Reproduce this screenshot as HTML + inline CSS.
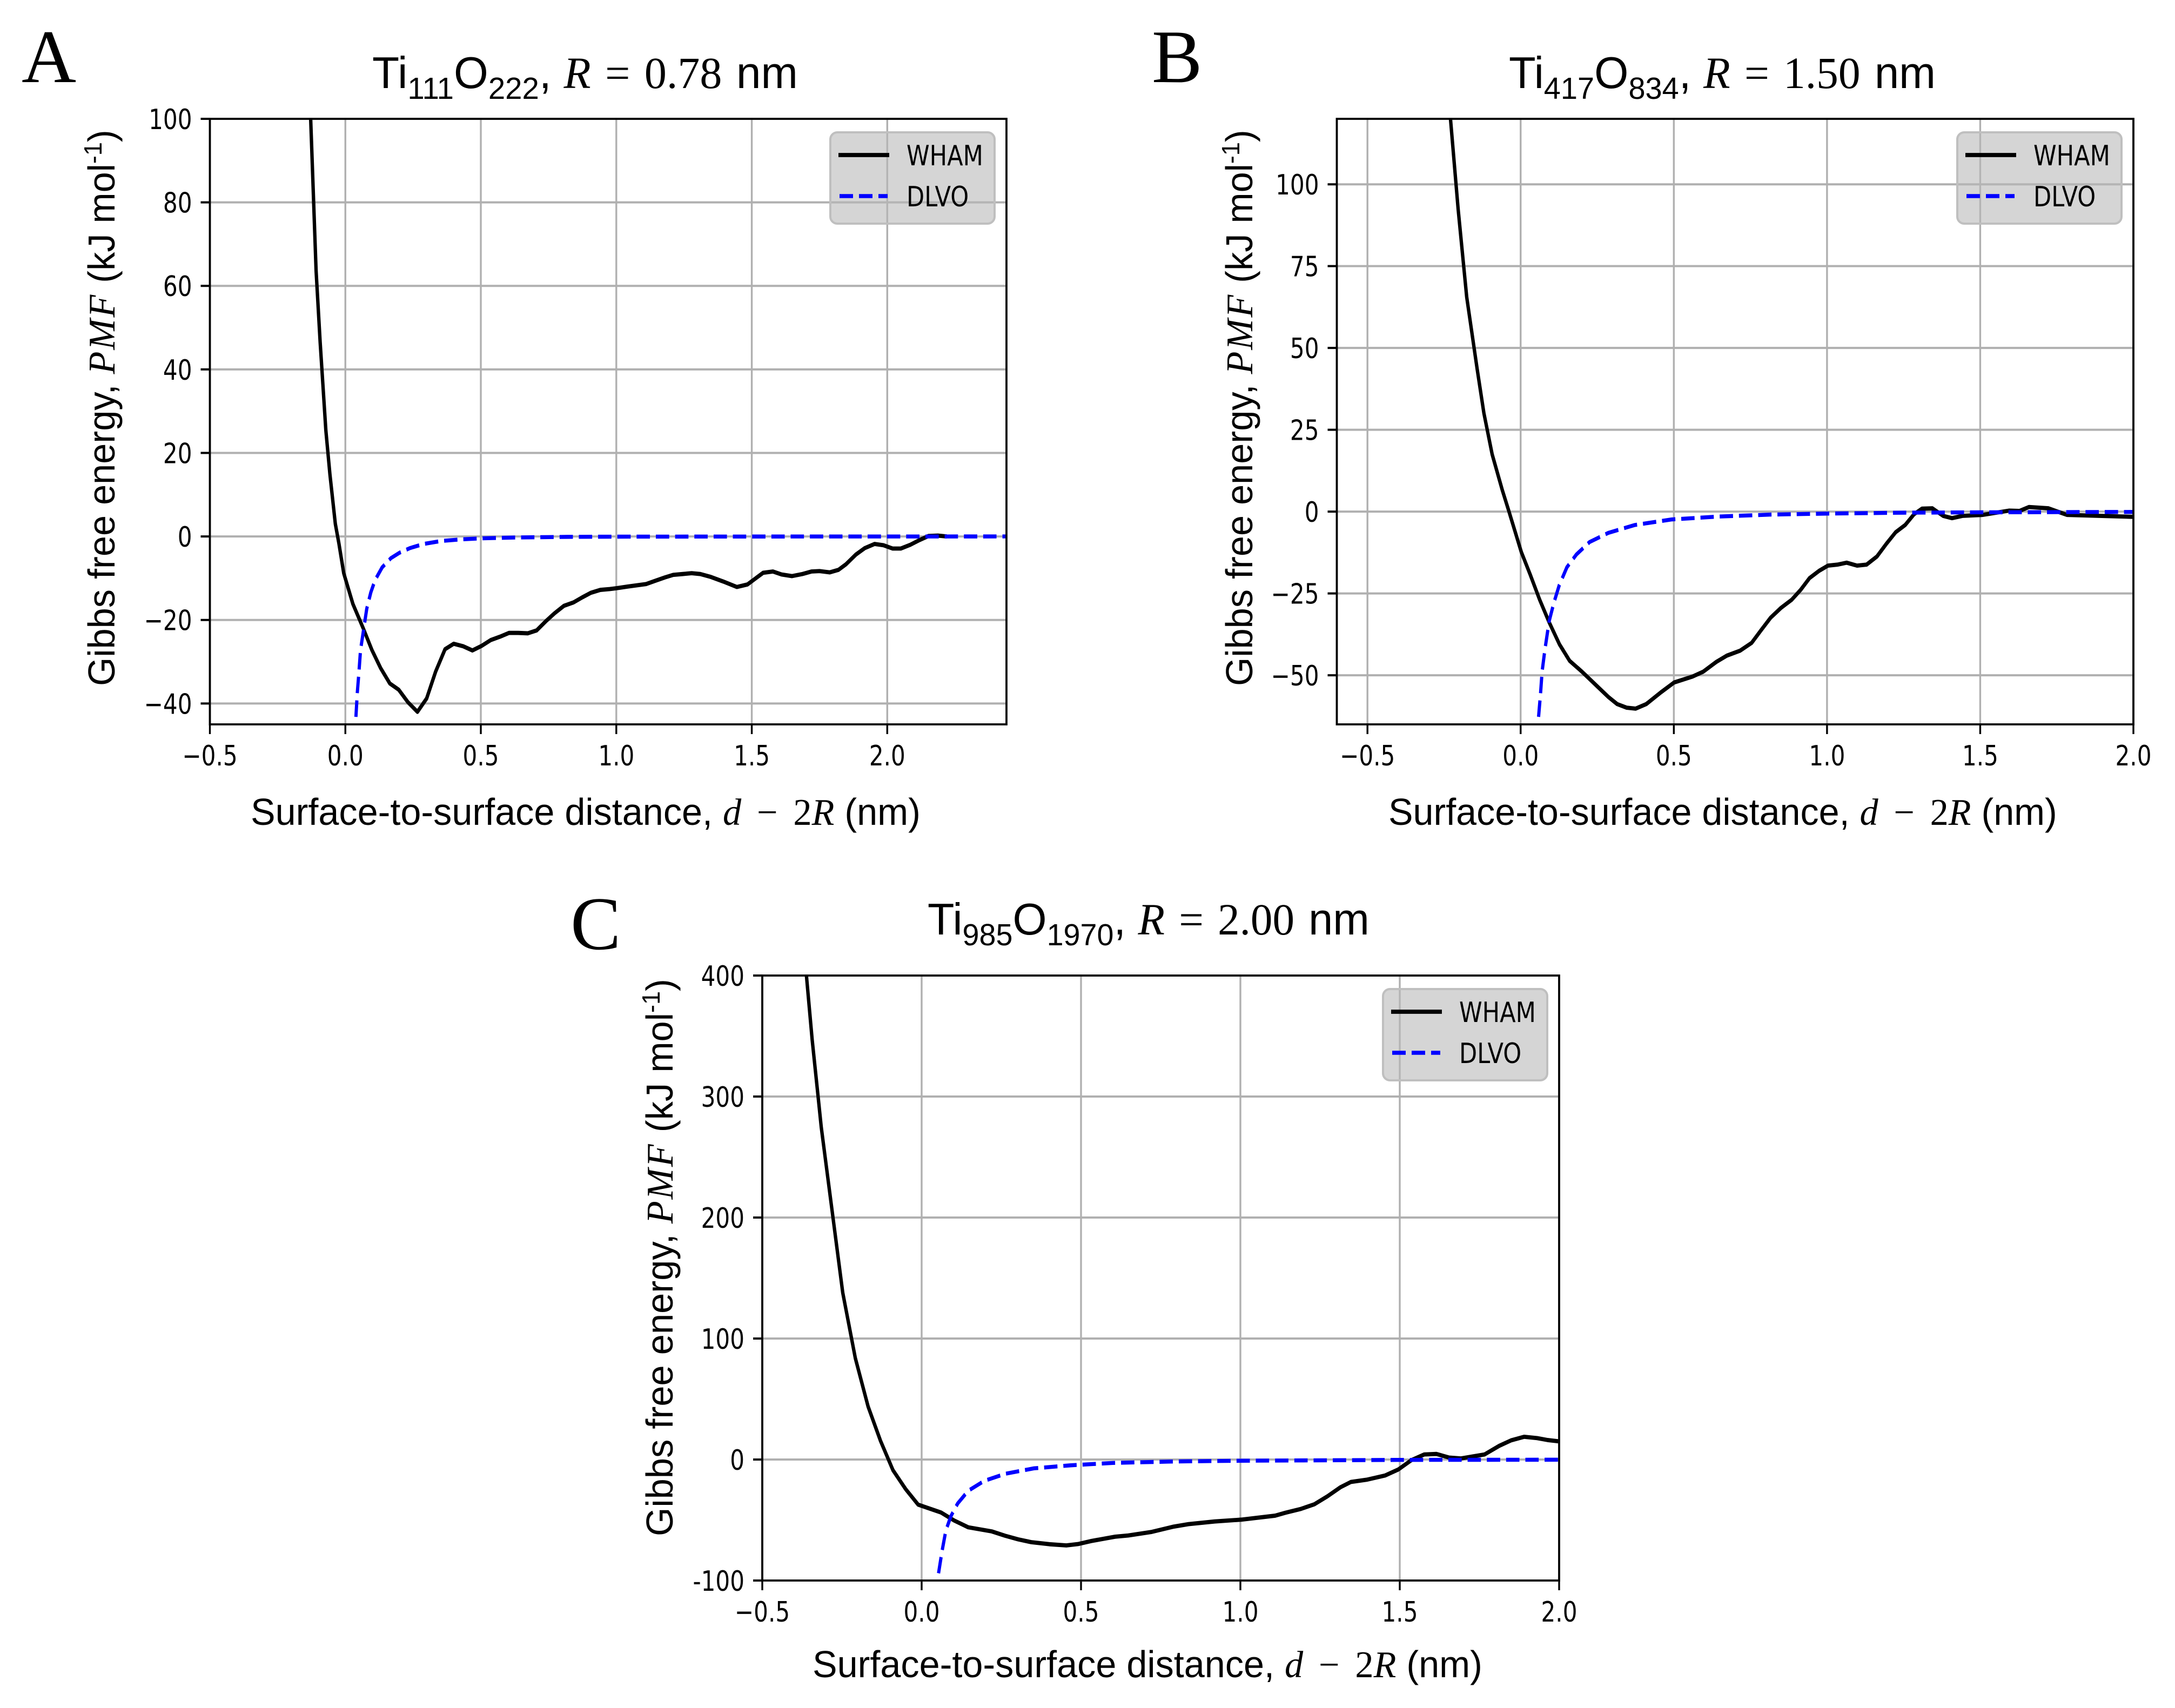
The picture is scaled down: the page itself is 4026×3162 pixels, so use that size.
<!DOCTYPE html>
<html lang="en">
<head>
<meta charset="utf-8">
<title>PMF of TiO2 nanoparticles: WHAM vs DLVO</title>
<style>
  html, body { margin: 0; padding: 0; background: #fff; }
  svg { display: block; }
  text { fill: #000; }
  .sans { font-family: "Liberation Sans", sans-serif; }
  .serif { font-family: "Liberation Serif", serif; }
  .ital { font-family: "Liberation Serif", serif; font-style: italic; }
  .letter { font-family: "Liberation Serif", serif; font-size: 140px; }
  .title { font-family: "Liberation Sans", sans-serif; font-size: 83px; }
  .axis-label { font-family: "Liberation Sans", sans-serif; font-size: 70px; }
  .legend-text, .tick-text { font-family: "DejaVu Sans", sans-serif; font-size: 52px; }
  .legend-box { fill: #b7b7b7; fill-opacity: .58; stroke: #bfbfbf; stroke-width: 4; }
</style>
</head>
<body>
<svg id="figure" xmlns="http://www.w3.org/2000/svg" width="4026" height="3162" viewBox="0 0 4026 3162">
  <rect width="4026" height="3162" fill="#fff"/>

  <!-- Panel A -->
  <g id="panel-a">
    <text class="letter" x="40" y="152">A</text>
    <text class="title" data-x="689" data-y="163" data-w="788">Ti<tspan font-size="57" dy="20">111</tspan><tspan dy="-20">O</tspan><tspan font-size="57" dy="20">222</tspan><tspan dy="-20">, </tspan><tspan class="ital">R</tspan><tspan class="serif" word-spacing="6"> = 0.78 </tspan>nm</text>
    <text class="axis-label" data-x="464" data-y="1527" data-w="1240">Surface-to-surface distance, <tspan class="ital">d</tspan><tspan class="serif" word-spacing="12"> − 2</tspan><tspan class="ital">R</tspan> (nm)</text>
    <text class="axis-label" data-x="212" data-y="1270" data-w="1030" data-rot="1">Gibbs free energy, <tspan class="ital" letter-spacing="3">PMF</tspan>  (kJ mol<tspan font-size="46" dy="-24">-1</tspan><tspan dy="24">)</tspan></text>
    <g id="marks-a"></g>
    <g>
      <rect class="legend-box" x="1537" y="245" width="304" height="169" rx="13"/>
      <line x1="1552" x2="1646" y1="287" y2="287" stroke="#000" stroke-width="7.8"/>
      <line x1="1554" x2="1643" y1="363" y2="363" stroke="#0000ff" stroke-width="7.4" stroke-dasharray="25 11"/>
      <text class="legend-text" transform="translate(1678 306) scale(.83 1)">WHAM</text>
      <text class="legend-text" transform="translate(1678 382) scale(.83 1)">DLVO</text>
    </g>
  </g>

  <!-- Panel B -->
  <g id="panel-b">
    <text class="letter" x="2132" y="152">B</text>
    <text class="title" data-x="2793" data-y="163" data-w="790">Ti<tspan font-size="57" dy="20">417</tspan><tspan dy="-20">O</tspan><tspan font-size="57" dy="20">834</tspan><tspan dy="-20">, </tspan><tspan class="ital">R</tspan><tspan class="serif" word-spacing="6"> = 1.50 </tspan>nm</text>
    <text class="axis-label" data-x="2570" data-y="1527" data-w="1238">Surface-to-surface distance, <tspan class="ital">d</tspan><tspan class="serif" word-spacing="12"> − 2</tspan><tspan class="ital">R</tspan> (nm)</text>
    <text class="axis-label" data-x="2318" data-y="1270" data-w="1030" data-rot="1">Gibbs free energy, <tspan class="ital" letter-spacing="3">PMF</tspan>  (kJ mol<tspan font-size="46" dy="-24">-1</tspan><tspan dy="24">)</tspan></text>
    <g id="marks-b"></g>
    <g>
      <rect class="legend-box" x="3623" y="245" width="304" height="169" rx="13"/>
      <line x1="3638" x2="3732" y1="287" y2="287" stroke="#000" stroke-width="7.8"/>
      <line x1="3640" x2="3729" y1="363" y2="363" stroke="#0000ff" stroke-width="7.4" stroke-dasharray="25 11"/>
      <text class="legend-text" transform="translate(3764 306) scale(.83 1)">WHAM</text>
      <text class="legend-text" transform="translate(3764 382) scale(.83 1)">DLVO</text>
    </g>
  </g>

  <!-- Panel C -->
  <g id="panel-c">
    <text class="letter" x="1056" y="1757">C</text>
    <text class="title" data-x="1717" data-y="1730" data-w="818">Ti<tspan font-size="57" dy="20">985</tspan><tspan dy="-20">O</tspan><tspan font-size="57" dy="20">1970</tspan><tspan dy="-20">, </tspan><tspan class="ital">R</tspan><tspan class="serif" word-spacing="6"> = 2.00 </tspan>nm</text>
    <text class="axis-label" data-x="1504" data-y="3105" data-w="1240">Surface-to-surface distance, <tspan class="ital">d</tspan><tspan class="serif" word-spacing="12"> − 2</tspan><tspan class="ital">R</tspan> (nm)</text>
    <text class="axis-label" data-x="1245" data-y="2844" data-w="1032" data-rot="1">Gibbs free energy, <tspan class="ital" letter-spacing="3">PMF</tspan>  (kJ mol<tspan font-size="46" dy="-24">-1</tspan><tspan dy="24">)</tspan></text>
    <g id="marks-c"></g>
    <g>
      <rect class="legend-box" x="2560" y="1831" width="304" height="169" rx="13"/>
      <line x1="2575" x2="2669" y1="1873" y2="1873" stroke="#000" stroke-width="7.8"/>
      <line x1="2577" x2="2666" y1="1949" y2="1949" stroke="#0000ff" stroke-width="7.4" stroke-dasharray="25 11"/>
      <text class="legend-text" transform="translate(2701 1892) scale(.83 1)">WHAM</text>
      <text class="legend-text" transform="translate(2701 1968) scale(.83 1)">DLVO</text>
    </g>
  </g>
</svg>

<script>
// ---------- Panel A data ----------
const xTicksA = [-0.5, 0, 0.5, 1, 1.5, 2];
const xTickLabelsA = ["−0.5", "0.0", "0.5", "1.0", "1.5", "2.0"];
const yTicksA = [-40, -20, 0, 20, 40, 60, 80, 100];
const yTickLabelsA = ["−40", "−20", "0", "20", "40", "60", "80", "100"];
const whamDistanceA = [-0.135,-0.128,-0.108,-0.093,-0.072,-0.057,-0.037,-0.024,-0.006,0.028,0.066,0.098,0.13,0.164,0.197,0.231,0.266,0.30,0.333,0.368,0.40,0.435,0.469,0.503,0.537,0.571,0.604,0.638,0.673,0.706,0.74,0.772,0.807,0.842,0.874,0.906,0.941,0.976,1.0,1.042,1.11,1.145,1.18,1.21,1.245,1.278,1.31,1.349,1.395,1.445,1.484,1.542,1.578,1.61,1.648,1.687,1.72,1.75,1.788,1.82,1.847,1.885,1.917,1.953,1.986,2.02,2.05,2.085,2.118,2.152,2.187,2.22];
const whamEnergyA = [110,100,63.6,46.5,25.4,14.9,3,-1.6,-8.8,-16.2,-22,-27.2,-31.5,-35.2,-36.7,-39.7,-42,-38.8,-32.4,-27,-25.7,-26.3,-27.3,-26.2,-24.8,-24,-23.1,-23.1,-23.2,-22.5,-20.3,-18.4,-16.6,-15.8,-14.6,-13.5,-12.8,-12.6,-12.4,-12,-11.4,-10.6,-9.8,-9.2,-9,-8.8,-9,-9.7,-10.8,-12.1,-11.5,-8.7,-8.4,-9.1,-9.5,-9,-8.4,-8.3,-8.6,-8,-6.7,-4.3,-2.8,-1.8,-2.1,-2.9,-2.9,-2,-0.9,0.1,0.2,0];
const dlvoDistanceA = [0.039,0.044,0.05,0.056,0.069,0.079,0.094,0.11,0.136,0.168,0.2,0.238,0.289,0.352,0.428,0.505,0.63,0.82,1.0,1.5,2.0,2.44];
const dlvoEnergyA = [-43.2,-37.5,-32.6,-27.2,-21.6,-17.3,-13.4,-10.4,-7.4,-5.2,-3.9,-2.8,-1.8,-1.1,-0.7,-0.45,-0.25,-0.1,-0.05,-0.02,-0.01,0];

// ---------- Panel B data ----------
const xTicksB = [-0.5, 0, 0.5, 1, 1.5, 2];
const xTickLabelsB = ["−0.5", "0.0", "0.5", "1.0", "1.5", "2.0"];
const yTicksB = [-50, -25, 0, 25, 50, 75, 100];
const yTickLabelsB = ["−50", "−25", "0", "25", "50", "75", "100"];
const whamDistanceB = [-0.24,-0.229,-0.204,-0.176,-0.142,-0.12,-0.093,-0.06,-0.038,0.002,0.031,0.062,0.093,0.127,0.16,0.2,0.248,0.286,0.315,0.346,0.375,0.41,0.458,0.501,0.561,0.596,0.639,0.673,0.716,0.754,0.785,0.816,0.85,0.885,0.914,0.943,0.974,1.003,1.034,1.064,1.098,1.129,1.163,1.194,1.224,1.255,1.284,1.31,1.344,1.379,1.408,1.442,1.508,1.594,1.628,1.659,1.723,1.783,2.0];
const whamEnergyB = [132,120,92.4,65.5,43.6,30.1,17.5,6.6,0,-12.3,-19.2,-26.9,-33.8,-40.6,-45.6,-48.9,-53.2,-56.6,-58.8,-59.9,-60.2,-58.8,-55.2,-52.2,-50.4,-48.9,-45.9,-44,-42.5,-40.1,-36.2,-32.4,-29.4,-26.9,-23.9,-20.3,-18.1,-16.5,-16.2,-15.6,-16.5,-16.2,-13.7,-9.8,-6.3,-4.1,-0.8,0.9,1,-1.3,-2,-1.3,-1,0.3,0.2,1.4,1,-1,-1.6];
const dlvoDistanceB = [0.0585,0.065,0.07,0.079,0.093,0.108,0.126,0.151,0.182,0.225,0.286,0.372,0.492,0.647,0.819,1.0,1.25,1.5,2.0];
const dlvoEnergyB = [-62.7,-55.5,-48.9,-42.3,-33.5,-28,-22.5,-17,-13.1,-9.3,-6.5,-4.1,-2.4,-1.5,-0.9,-0.6,-0.33,-0.22,-0.1];

// ---------- Panel C data ----------
const xTicksC = [-0.5, 0, 0.5, 1, 1.5, 2];
const xTickLabelsC = ["−0.5", "0.0", "0.5", "1.0", "1.5", "2.0"];
const yTicksC = [-100, 0, 100, 200, 300, 400];
const yTickLabelsC = ["-100", "0", "100", "200", "300", "400"];
const whamDistanceC = [-0.37,-0.3615,-0.3435,-0.3237,-0.315,-0.284,-0.2475,-0.208,-0.168,-0.129,-0.09,-0.05,-0.011,0.061,0.102,0.146,0.22,0.262,0.303,0.344,0.401,0.454,0.492,0.533,0.607,0.648,0.722,0.788,0.837,0.919,1.002,1.109,1.141,1.19,1.232,1.273,1.314,1.347,1.396,1.454,1.495,1.536,1.577,1.615,1.655,1.692,1.766,1.812,1.849,1.89,1.931,1.964,2.0];
const whamEnergyC = [425,400,347,297,274.7,211.8,137.8,83.7,43.8,15.4,-8.8,-24.5,-37.3,-43.8,-50.4,-56,-59.4,-63,-66,-68.3,-70,-71,-69.8,-67.3,-63.8,-62.8,-59.8,-55.6,-53.4,-51.2,-49.7,-46.4,-44,-40.8,-37,-30.4,-22.9,-18.5,-16.7,-13.2,-8.3,-0.6,4.2,4.6,1.6,0.9,4.2,11.3,15.8,18.8,17.7,16.1,15];
const dlvoDistanceC = [0.053,0.064,0.076,0.092,0.113,0.146,0.196,0.262,0.352,0.467,0.599,0.796,1.0,1.29,1.5,2.0];
const dlvoEnergyC = [-94,-75.7,-58.6,-46.7,-36.3,-25.9,-17.7,-11.8,-7.3,-4.8,-2.8,-1.6,-1,-0.6,-0.3,-0.15];

const SVG_NS = "http://www.w3.org/2000/svg";
// The source figure is horizontally squeezed, so strokes are thinner when running vertically.
const SQUEEZE = 0.81;

function makeNode(tag, parent) {
  const node = document.createElementNS(SVG_NS, tag);
  parent.appendChild(node);
  return node;
}

function linePath(xs, ys, xScale, yScale) {
  return xs.map(function (v, i) {
    return (i ? "L" : "M") + (xScale(v) / SQUEEZE).toFixed(2) + " " + yScale(ys[i]).toFixed(2);
  }).join(" ");
}

function drawPanel(id, box, xDomain, yDomain, xTicks, xLabels, yTicks, yLabels, whamX, whamY, dlvoX, dlvoY) {
  const root = document.getElementById("marks-" + id);
  const xScale = function (v) {
    return box.left + (v - xDomain[0]) / (xDomain[1] - xDomain[0]) * (box.right - box.left);
  };
  const yScale = function (v) {
    return box.bottom - (v - yDomain[0]) / (yDomain[1] - yDomain[0]) * (box.bottom - box.top);
  };

  const clip = makeNode("clipPath", root);
  clip.setAttribute("id", "clip-" + id);
  const clipRect = makeNode("rect", clip);
  clipRect.setAttribute("x", box.left);
  clipRect.setAttribute("y", box.top);
  clipRect.setAttribute("width", box.right - box.left);
  clipRect.setAttribute("height", box.bottom - box.top);

  xTicks.forEach(function (v, i) {
    const grid = makeNode("line", root);
    
    
    grid.setAttribute("x1", xScale(v));
    grid.setAttribute("x2", xScale(v));
    grid.setAttribute("y1", box.top);
    grid.setAttribute("y2", box.bottom);
    grid.setAttribute("stroke", "#b0b0b0");
    grid.setAttribute("stroke-width", "3.4");

    const tick = makeNode("line", root);
    
    
    tick.setAttribute("x1", xScale(v));
    tick.setAttribute("x2", xScale(v));
    tick.setAttribute("y1", box.bottom);
    tick.setAttribute("y2", box.bottom + 18);
    tick.setAttribute("stroke", "#000");
    tick.setAttribute("stroke-width", "3.4");

    const label = makeNode("text", root);
    
    
    label.setAttribute("class", "tick-text");
    label.setAttribute("text-anchor", "middle");
    label.setAttribute("transform", "translate(" + xScale(v) + " " + (box.bottom + 76) + ") scale(.81 1)");
    label.textContent = xLabels[i];
  });

  yTicks.forEach(function (v, i) {
    const grid = makeNode("line", root);
    
    
    grid.setAttribute("x1", box.left);
    grid.setAttribute("x2", box.right);
    grid.setAttribute("y1", yScale(v));
    grid.setAttribute("y2", yScale(v));
    grid.setAttribute("stroke", "#b0b0b0");
    grid.setAttribute("stroke-width", "4");

    const tick = makeNode("line", root);
    
    
    tick.setAttribute("x1", box.left - 17);
    tick.setAttribute("x2", box.left);
    tick.setAttribute("y1", yScale(v));
    tick.setAttribute("y2", yScale(v));
    tick.setAttribute("stroke", "#000");
    tick.setAttribute("stroke-width", "4");

    const label = makeNode("text", root);
    
    
    label.setAttribute("class", "tick-text");
    label.setAttribute("text-anchor", "end");
    label.setAttribute("transform", "translate(" + (box.left - 33) + " " + (yScale(v) + 19) + ") scale(.81 1)");
    label.textContent = yLabels[i];
  });

  const clipped = makeNode("g", root);
  
  
  clipped.setAttribute("clip-path", "url(#clip-" + id + ")");

  const wham = makeNode("path", clipped);
  
  
  wham.setAttribute("transform", "scale(" + SQUEEZE + " 1)");
  wham.setAttribute("d", linePath(whamX, whamY, xScale, yScale));
  wham.setAttribute("fill", "none");
  wham.setAttribute("stroke", "#000");
  wham.setAttribute("stroke-width", "7.8");
  wham.setAttribute("stroke-linejoin", "round");

  const dlvo = makeNode("path", clipped);
  
  
  dlvo.setAttribute("transform", "scale(" + SQUEEZE + " 1)");
  dlvo.setAttribute("d", linePath(dlvoX, dlvoY, xScale, yScale));
  dlvo.setAttribute("fill", "none");
  dlvo.setAttribute("stroke", "#0000ff");
  dlvo.setAttribute("stroke-width", "7.4");
  dlvo.setAttribute("stroke-dasharray", "30.5 13.5");

  const frame = makeNode("rect", root);
  
  
  frame.setAttribute("x", box.left);
  frame.setAttribute("y", box.top);
  frame.setAttribute("width", box.right - box.left);
  frame.setAttribute("height", box.bottom - box.top);
  frame.setAttribute("fill", "none");
  frame.setAttribute("stroke", "#000");
  frame.setAttribute("stroke-width", "3.8");
}

drawPanel("a", {left: 388.5, right: 1863, top: 220, bottom: 1341}, [-0.5, 2.44], [-45, 100],
  xTicksA, xTickLabelsA, yTicksA, yTickLabelsA, whamDistanceA, whamEnergyA, dlvoDistanceA, dlvoEnergyA);
drawPanel("b", {left: 2474.5, right: 3949, top: 220, bottom: 1341}, [-0.6, 2.0], [-65, 120],
  xTicksB, xTickLabelsB, yTicksB, yTickLabelsB, whamDistanceB, whamEnergyB, dlvoDistanceB, dlvoEnergyB);
drawPanel("c", {left: 1411, right: 2886, top: 1806, bottom: 2926}, [-0.5, 2.0], [-100, 400],
  xTicksC, xTickLabelsC, yTicksC, yTickLabelsC, whamDistanceC, whamEnergyC, dlvoDistanceC, dlvoEnergyC);

// Fit titles and axis titles to their measured horizontal extent.
document.querySelectorAll("text[data-w]").forEach(function (el) {
  const sx = parseFloat(el.getAttribute("data-w")) / el.getComputedTextLength();
  const tx = el.getAttribute("data-x");
  const ty = el.getAttribute("data-y");
  const rot = el.getAttribute("data-rot") ? " rotate(-90)" : "";
  el.setAttribute("transform", "translate(" + tx + " " + ty + ")" + rot + " scale(" + sx.toFixed(4) + " 1)");
});
</script>
</body>
</html>
